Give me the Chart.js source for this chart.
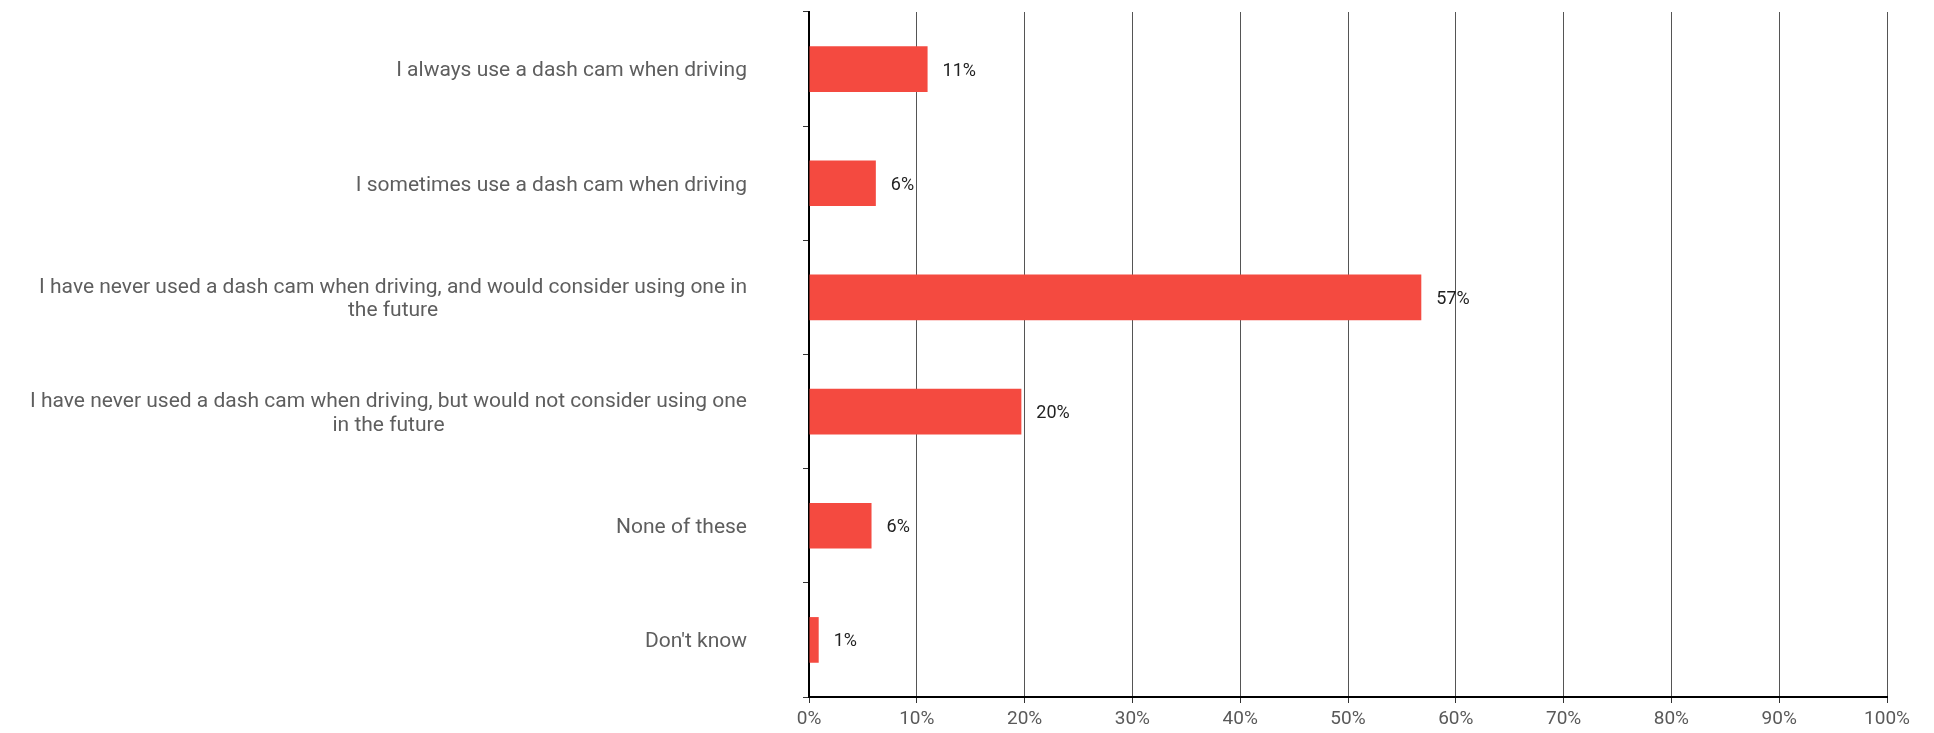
<!DOCTYPE html>
<html>
<head>
<meta charset="utf-8">
<script src="https://cdn.jsdelivr.net/npm/chart.js@4.4.1/dist/chart.umd.min.js"></script>
<style>
    html, body { margin: 0; padding: 0; background: #fff; }
    #wrap { width: 1934px; height: 733px; position: relative; }
</style>
</head>
<body>
<div id="wrap"><canvas id="dashCamChart"></canvas></div>
<script>
// Data survei penggunaan dash cam
const categories = [
    ['I always use a dash cam when driving'],
    ['I sometimes use a dash cam when driving'],
    ['I have never used a dash cam when driving, and would consider using one in', 'the future'],
    ['I have never used a dash cam when driving, but would not consider using one', 'in the future'],
    ['None of these'],
    ["Don't know"]
];
const shareValues = [11.0, 6.2, 56.8, 19.7, 5.8, 0.9];
const shareLabels = ['11%', '6%', '57%', '20%', '6%', '1%'];
const xTickValues = [0, 10, 20, 30, 40, 50, 60, 70, 80, 90, 100];

const fontFamily = "Roboto, 'Liberation Sans', sans-serif";
const barColor = '#f44a40';

// Label kategori ditulis sendiri supaya baris kedua berada di tengah baris pertama
const categoryLabelPlugin = {
    id: 'categoryLabels',
    afterDraw(chart) {
        const ctx = chart.ctx;
        const yScale = chart.scales.y;
        const rightEdge = yScale.right - 62;
        const lineHeight = 23.5;
        ctx.save();
        ctx.font = '21px ' + fontFamily;
        ctx.fillStyle = '#5e5e5e';
        ctx.textAlign = 'center';
        ctx.textBaseline = 'middle';
        categories.forEach((lines, i) => {
            const centerY = yScale.getPixelForValue(i) + 2;
            const maxW = Math.max(...lines.map(l => ctx.measureText(l).width));
            const centerX = rightEdge - maxW / 2;
            const startY = centerY - (lines.length - 1) * lineHeight / 2;
            lines.forEach((line, j) => {
                ctx.fillText(line, centerX, startY + j * lineHeight);
            });
        });
        ctx.restore();
    }
};

// Label nilai di ujung batang
const valueLabelPlugin = {
    id: 'valueLabels',
    afterDatasetsDraw(chart) {
        const ctx = chart.ctx;
        const meta = chart.getDatasetMeta(0);
        ctx.save();
        ctx.font = '18px ' + fontFamily;
        ctx.fillStyle = '#222';
        ctx.textAlign = 'left';
        ctx.textBaseline = 'middle';
        meta.data.forEach((bar, i) => {
            ctx.fillText(shareLabels[i], bar.x + 15, bar.y + 2);
        });
        ctx.restore();
    }
};

const ctx = document.getElementById('dashCamChart');
new Chart(ctx, {
    type: 'bar',
    data: {
        labels: categories.map(c => c.join(' ')),
        datasets: [{
            data: shareValues,
            backgroundColor: barColor,
            borderWidth: 0,
            barPercentage: 0.8,
            categoryPercentage: 0.5
        }]
    },
    options: {
        indexAxis: 'y',
        responsive: true,
        maintainAspectRatio: false,
        animation: false,
        layout: {
            padding: { top: 12, right: 47, bottom: 4, left: 0 }
        },
        plugins: {
            legend: { display: false },
            tooltip: { enabled: false }
        },
        scales: {
            x: {
                min: 0,
                max: 100,
                afterBuildTicks(scale) {
                    scale.ticks = xTickValues.map(v => ({ value: v }));
                },
                grid: {
                    color: '#555',
                    lineWidth: 1,
                    tickLength: 6,
                    tickColor: '#333'
                },
                border: { color: '#000', width: 2 },
                ticks: {
                    color: '#595959',
                    padding: 5,
                    font: { family: fontFamily, size: 19 },
                    callback: v => v + '%'
                },
                afterFit(scale) { scale.height = 32; }
            },
            y: {
                grid: {
                    offset: true,
                    drawOnChartArea: false,
                    tickLength: 6,
                    color: '#333'
                },
                border: { color: '#000', width: 2 },
                ticks: { display: false },
                afterFit(scale) { scale.width = 809; }
            }
        }
    },
    plugins: [categoryLabelPlugin, valueLabelPlugin]
});
</script>
</body>
</html>
